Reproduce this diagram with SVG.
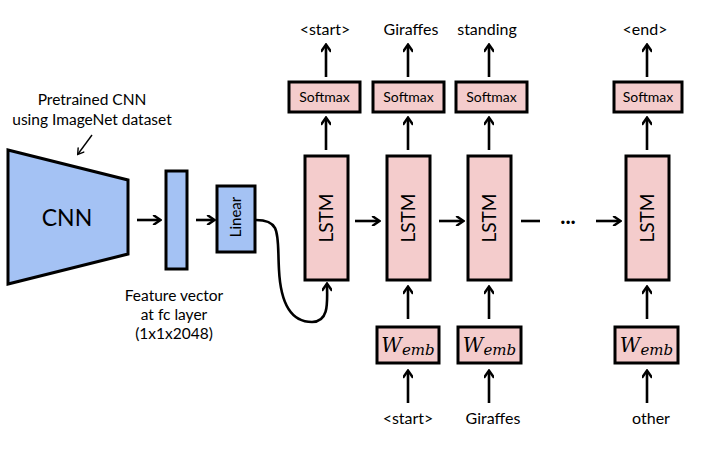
<svg xmlns="http://www.w3.org/2000/svg" width="707" height="450" viewBox="0 0 707 450">
<defs>
<marker id="ah" markerWidth="10" markerHeight="10" viewBox="0 0 10 10" refX="8" refY="5" orient="auto" markerUnits="userSpaceOnUse">
<path d="M2,0.5 L8.5,5 L2,9.5" fill="none" stroke="#000" stroke-width="2.4" stroke-linecap="round" stroke-linejoin="miter"/>
</marker>
<marker id="ahs" markerWidth="10" markerHeight="10" viewBox="0 0 10 10" refX="8" refY="5" orient="auto" markerUnits="userSpaceOnUse">
<path d="M3,1.5 L8.5,5 L3,8.5" fill="none" stroke="#000" stroke-width="1.4" stroke-linecap="round"/>
</marker>
</defs>
<style>
text{font-family:Lato,"Open Sans","Liberation Sans",sans-serif;fill:#000}
.blue{fill:#a4c2f4;stroke:#000;stroke-width:3}
.pink{fill:#f4cccc;stroke:#000;stroke-width:3}
.c{stroke:#000;stroke-width:2.6;fill:none;marker-end:url(#ah)}
.lbl{font-size:15.5px;text-anchor:middle}
.w{font-size:16px;text-anchor:middle}
.sm{font-size:14px;text-anchor:middle}
.lstm{font-size:19px;text-anchor:middle}
.emb{font-family:"DejaVu Serif","Liberation Serif",serif;font-style:italic}
</style>
<rect width="707" height="450" fill="#fff"/>

<g id="cnn">
<polygon class="blue" points="8,150 128,180 128,254 8,284"/>
<text x="67" y="226" font-size="23" text-anchor="middle">CNN</text>
</g>
<g id="pretrained-label">
<text class="lbl" x="92" y="105">Pretrained CNN</text>
<text class="lbl" x="92" y="125">using ImageNet dataset</text>
</g>
<g id="feature">
<rect class="blue" x="166" y="171" width="21" height="98"/>
<text class="lbl" x="174" y="301">Feature vector</text>
<text class="lbl" x="174" y="320">at fc layer</text>
<text class="lbl" x="174" y="339">(1x1x2048)</text>
</g>
<g id="linear">
<rect class="blue" x="217" y="186" width="38" height="66"/>
<text x="0" y="0" font-size="15" text-anchor="middle" transform="translate(241,217) rotate(-90)">Linear</text>
</g>

<g id="lstm1"><rect class="pink" x="305" y="156" width="43" height="124"/><text class="lstm" transform="translate(333,218) rotate(-90)">LSTM</text></g>
<g id="lstm2"><rect class="pink" x="387" y="156" width="43" height="124"/><text class="lstm" transform="translate(415,218) rotate(-90)">LSTM</text></g>
<g id="lstm3"><rect class="pink" x="468" y="156" width="43" height="124"/><text class="lstm" transform="translate(496,218) rotate(-90)">LSTM</text></g>
<g id="lstm4"><rect class="pink" x="626" y="156" width="43" height="124"/><text class="lstm" transform="translate(654,218) rotate(-90)">LSTM</text></g>

<g id="softmax1"><rect class="pink" x="289" y="82" width="71" height="30"/><text class="sm" x="324.5" y="102">Softmax</text></g>
<g id="softmax2"><rect class="pink" x="373" y="82" width="71" height="30"/><text class="sm" x="408.5" y="102">Softmax</text></g>
<g id="softmax3"><rect class="pink" x="456" y="82" width="71" height="30"/><text class="sm" x="491.5" y="102">Softmax</text></g>
<g id="softmax4"><rect class="pink" x="614" y="82" width="68" height="30"/><text class="sm" x="648" y="102">Softmax</text></g>

<g id="out-labels">
<text class="w" x="325" y="35">&lt;start&gt;</text>
<text class="w" x="411" y="35">Giraffes</text>
<text class="w" x="487" y="35">standing</text>
<text class="w" x="645" y="35">&lt;end&gt;</text>
</g>

<g id="wemb1"><rect class="pink" x="377" y="327" width="62" height="36"/><text class="emb" x="408" y="352" text-anchor="middle"><tspan font-size="20">W</tspan><tspan font-size="15" dy="3">emb</tspan></text></g>
<g id="wemb2"><rect class="pink" x="458" y="327" width="63" height="36"/><text class="emb" x="489.5" y="352" text-anchor="middle"><tspan font-size="20">W</tspan><tspan font-size="15" dy="3">emb</tspan></text></g>
<g id="wemb3"><rect class="pink" x="615" y="327" width="63" height="36"/><text class="emb" x="646.5" y="352" text-anchor="middle"><tspan font-size="20">W</tspan><tspan font-size="15" dy="3">emb</tspan></text></g>

<g id="in-labels">
<text class="w" x="408" y="424">&lt;start&gt;</text>
<text class="w" x="493" y="424">Giraffes</text>
<text class="w" x="651" y="424">other</text>
</g>
<g id="dots"><text x="568" y="223.5" font-size="22" font-weight="bold" text-anchor="middle">...</text></g>

<g id="connectors">
<line x1="92" y1="135" x2="78" y2="154" stroke="#000" stroke-width="1.4" marker-end="url(#ahs)"/>
<line class="c" x1="137" y1="220" x2="160" y2="220"/>
<line class="c" x1="196" y1="220" x2="214" y2="220"/>
<path class="c" d="M256,220 C282,220 277,235 279,270 C281,310 295,322 312,322 C330,322 327,300 327,284"/>
<line class="c" x1="355" y1="221" x2="379" y2="221"/>
<line class="c" x1="439" y1="221" x2="463" y2="221"/>
<line x1="521" y1="221" x2="540" y2="221" stroke="#000" stroke-width="2.6"/>
<line class="c" x1="596" y1="221" x2="620" y2="221"/>
<line class="c" x1="326" y1="150" x2="326" y2="118"/>
<line class="c" x1="408" y1="150" x2="408" y2="118"/>
<line class="c" x1="489" y1="150" x2="489" y2="118"/>
<line class="c" x1="647" y1="150" x2="647" y2="118"/>
<line class="c" x1="326" y1="77" x2="326" y2="45"/>
<line class="c" x1="408" y1="77" x2="408" y2="45"/>
<line class="c" x1="489" y1="77" x2="489" y2="45"/>
<line class="c" x1="647" y1="77" x2="647" y2="45"/>
<line class="c" x1="408" y1="319" x2="408" y2="287"/>
<line class="c" x1="489" y1="319" x2="489" y2="287"/>
<line class="c" x1="647" y1="319" x2="647" y2="287"/>
<line class="c" x1="408" y1="403" x2="408" y2="371"/>
<line class="c" x1="489" y1="403" x2="489" y2="371"/>
<line class="c" x1="647" y1="403" x2="647" y2="371"/>
</g>
</svg>
